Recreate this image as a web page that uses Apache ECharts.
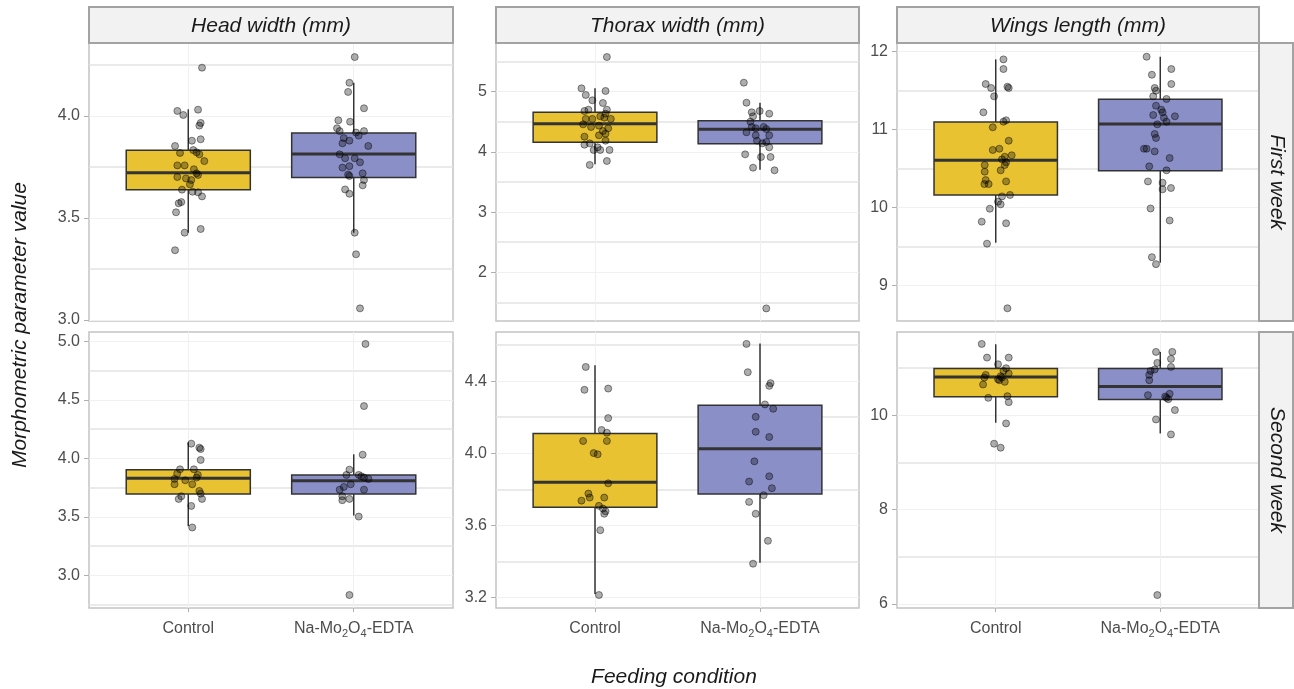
<!DOCTYPE html>
<html>
<head>
<meta charset="utf-8">
<script src="https://cdn.jsdelivr.net/npm/echarts@6/dist/echarts.min.js"></script>
<style>
  html, body { margin: 0; padding: 0; background: #fff; }
  #chart { width: 1294px; height: 689px; }
</style>
</head>
<body>
<div id="chart"></div>
<script>
const groups = ['Control', 'Na-Mo2O4-EDTA'];
const traits = ['Head width (mm)', 'Thorax width (mm)', 'Wings length (mm)'];
const weeks = ['First week', 'Second week'];

// box stats per group: [lower whisker, Q1, median, Q3, upper whisker]
const headW1Box = [[3.428, 3.639, 3.722, 3.832, 4.033], [3.428, 3.699, 3.814, 3.917, 4.163]];
const thoraxW1Box = [[3.794, 4.159, 4.468, 4.658, 5.056], [3.704, 4.136, 4.375, 4.518, 4.817]];
const wingsW1Box = [[9.551, 10.163, 10.608, 11.099, 11.902], [9.295, 10.474, 11.073, 11.390, 11.936]];
const headW2Box = [[3.420, 3.696, 3.829, 3.903, 4.136], [3.511, 3.696, 3.809, 3.858, 4.034]];
const thoraxW2Box = [[3.219, 3.700, 3.839, 4.110, 4.489], [3.392, 3.774, 4.025, 4.267, 4.609]];
const wingsW2Box = [[9.838, 10.387, 10.810, 10.987, 11.501], [9.612, 10.331, 10.606, 10.987, 11.339]];

// observations: [jitter offset, value]
const headW1Ctrl = [[0.083,4.237],[-0.066,4.025],[-0.030,4.005],[0.059,4.031],[0.075,3.966],[0.067,3.953],[0.022,3.879],[0.075,3.886],[-0.080,3.853],[0.030,3.833],[-0.050,3.819],[0.050,3.822],[0.067,3.812],[0.097,3.779],[-0.066,3.758],[-0.022,3.758],[0.034,3.739],[0.050,3.719],[0.059,3.711],[-0.066,3.701],[-0.014,3.694],[0.018,3.686],[0.010,3.665],[-0.038,3.639],[0.026,3.629],[0.059,3.626],[0.083,3.606],[-0.042,3.578],[-0.058,3.572],[-0.074,3.528],[-0.022,3.428],[0.075,3.446],[-0.080,3.342]];
const headW1Na = [[0.006,4.289],[-0.026,4.163],[-0.034,4.118],[0.062,4.038],[-0.093,3.979],[-0.022,3.972],[-0.101,3.940],[-0.085,3.926],[0.014,3.919],[0.062,3.926],[0.030,3.904],[-0.060,3.892],[-0.026,3.879],[-0.068,3.866],[0.088,3.853],[-0.085,3.812],[-0.052,3.793],[0.006,3.793],[0.038,3.773],[-0.068,3.747],[-0.026,3.754],[0.054,3.719],[-0.034,3.713],[-0.026,3.706],[0.062,3.686],[0.054,3.660],[-0.052,3.640],[-0.026,3.619],[0.006,3.428],[0.014,3.322],[0.038,3.057]];
const thoraxW1Ctrl = [[0.072,5.576],[-0.082,5.056],[0.064,5.012],[-0.056,4.945],[-0.016,4.857],[0.048,4.812],[-0.040,4.701],[-0.064,4.679],[0.072,4.701],[0.064,4.635],[0.032,4.591],[-0.056,4.547],[-0.016,4.547],[0.056,4.569],[0.096,4.547],[-0.072,4.458],[-0.024,4.414],[0.024,4.436],[0.080,4.392],[0.048,4.347],[0.064,4.303],[-0.064,4.253],[0.024,4.275],[0.064,4.186],[-0.064,4.120],[-0.032,4.142],[0.016,4.076],[-0.008,4.032],[0.032,4.032],[0.088,4.032],[0.072,3.849],[-0.032,3.783]];
const thoraxW1Na = [[-0.098,5.150],[-0.082,4.817],[-0.050,4.658],[-0.002,4.679],[0.056,4.635],[-0.042,4.591],[-0.058,4.502],[-0.050,4.414],[-0.026,4.392],[0.022,4.414],[0.038,4.380],[-0.082,4.326],[0.056,4.275],[-0.026,4.275],[-0.018,4.186],[0.014,4.142],[0.038,4.164],[0.056,4.076],[-0.090,3.959],[0.006,3.915],[0.064,3.915],[-0.042,3.738],[0.088,3.694],[0.038,1.400]];
const wingsW1Ctrl = [[0.047,11.902],[0.047,11.778],[-0.061,11.586],[-0.028,11.535],[0.071,11.551],[0.079,11.535],[-0.010,11.428],[-0.075,11.223],[0.063,11.121],[0.047,11.103],[-0.018,11.031],[0.079,10.859],[-0.018,10.740],[0.022,10.756],[0.097,10.672],[0.055,10.654],[0.038,10.620],[0.063,10.582],[0.055,10.547],[-0.067,10.547],[-0.067,10.462],[0.030,10.479],[-0.061,10.354],[-0.069,10.303],[-0.043,10.303],[0.063,10.337],[0.038,10.145],[0.087,10.163],[0.014,10.077],[0.030,10.043],[-0.036,9.987],[-0.085,9.821],[0.063,9.800],[-0.053,9.539],[0.071,8.710]];
const wingsW1Na = [[-0.083,11.936],[0.067,11.778],[-0.051,11.705],[0.067,11.586],[-0.034,11.535],[-0.026,11.500],[-0.043,11.428],[0.038,11.394],[-0.026,11.308],[0.006,11.257],[0.014,11.223],[-0.043,11.188],[0.022,11.154],[0.089,11.172],[0.038,11.103],[-0.018,11.069],[-0.034,10.945],[-0.026,10.894],[-0.099,10.756],[-0.083,10.756],[-0.034,10.722],[0.057,10.637],[-0.067,10.530],[0.038,10.479],[-0.075,10.337],[0.014,10.320],[0.014,10.235],[0.065,10.252],[-0.059,9.990],[0.057,9.836],[-0.051,9.366],[-0.026,9.276]];
const headW2Ctrl = [[0.018,4.125],[0.067,4.091],[0.075,4.079],[0.075,3.986],[-0.050,3.906],[0.034,3.906],[-0.067,3.869],[0.058,3.858],[0.050,3.835],[-0.083,3.824],[-0.018,3.812],[-0.083,3.778],[0.024,3.778],[0.067,3.721],[0.075,3.698],[-0.042,3.676],[-0.058,3.653],[0.083,3.653],[0.018,3.593],[0.024,3.409]];
const headW2Na = [[0.071,4.977],[0.062,4.446],[0.054,4.031],[-0.026,3.903],[-0.044,3.858],[0.030,3.858],[0.046,3.846],[0.089,3.824],[0.062,3.835],[-0.018,3.778],[-0.060,3.755],[-0.085,3.732],[0.062,3.732],[-0.069,3.676],[-0.069,3.642],[-0.026,3.653],[0.030,3.502],[-0.026,2.832]];
const thoraxW2Ctrl = [[-0.056,4.479],[-0.064,4.352],[0.080,4.359],[0.080,4.195],[0.040,4.129],[0.072,4.114],[-0.072,4.068],[0.072,4.068],[-0.008,4.001],[0.016,3.994],[0.080,3.833],[-0.040,3.776],[-0.032,3.754],[-0.082,3.737],[0.056,3.754],[0.024,3.708],[0.048,3.693],[0.064,3.678],[0.056,3.664],[0.032,3.573],[0.024,3.213]];
const thoraxW2Na = [[-0.082,4.607],[-0.074,4.450],[0.064,4.389],[0.056,4.374],[0.030,4.271],[0.080,4.247],[-0.026,4.202],[-0.026,4.119],[0.056,4.090],[-0.034,3.955],[0.056,3.872],[-0.066,3.843],[0.072,3.806],[0.022,3.767],[-0.066,3.730],[-0.026,3.664],[0.048,3.514],[-0.042,3.387]];
const wingsW2Ctrl = [[-0.085,11.508],[-0.053,11.219],[0.079,11.219],[0.014,11.078],[0.063,10.994],[0.047,10.937],[0.079,10.881],[-0.061,10.852],[-0.069,10.796],[0.030,10.825],[0.014,10.761],[0.038,10.796],[0.022,10.740],[0.055,10.705],[-0.077,10.648],[-0.045,10.366],[0.071,10.402],[0.079,10.275],[0.063,9.824],[-0.010,9.394],[0.030,9.309]];
const wingsW2Na = [[-0.026,11.339],[0.073,11.339],[0.065,11.191],[-0.018,11.106],[0.065,11.022],[-0.034,10.966],[-0.059,10.937],[-0.067,10.852],[-0.067,10.740],[-0.075,10.423],[0.030,10.395],[0.057,10.451],[0.049,10.338],[0.038,10.366],[0.089,10.106],[-0.026,9.908],[0.065,9.591],[-0.018,6.187]];

// y axis limits and ticks, panels ordered row by row
const yMins = [2.995, 1.191, 8.547, 2.721, 3.141, 5.913];
const yMaxs = [4.358, 5.809, 12.112, 5.079, 4.673, 11.761];
const majorTicks = [[3, 3.5, 4], [2, 3, 4, 5], [9, 10, 11, 12], [3, 3.5, 4, 4.5, 5], [3.2, 3.6, 4.0, 4.4], [6, 8, 10]];
const minorTicks = [[3.25, 3.75, 4.25], [1.5, 2.5, 3.5, 4.5, 5.5], [8.5, 9.5, 10.5, 11.5], [2.75, 3.25, 3.75, 4.25, 4.75], [3.4, 3.8, 4.2, 4.6], [7, 9, 11]];
const tickDecimals = [1, 0, 0, 1, 1, 0];

const boxes = [headW1Box, thoraxW1Box, wingsW1Box, headW2Box, thoraxW2Box, wingsW2Box];
const ctrlPts = [headW1Ctrl, thoraxW1Ctrl, wingsW1Ctrl, headW2Ctrl, thoraxW2Ctrl, wingsW2Ctrl];
const naPts = [headW1Na, thoraxW1Na, wingsW1Na, headW2Na, thoraxW2Na, wingsW2Na];

const fills = ['#e9c232', '#8b8fc8'];
const FONT = '"Liberation Sans", Arial, sans-serif';

// panel layout
const colLeft = [89, 496, 897];
const colWidth = [364, 363, 362];
const rowTop = [43, 332];
const rowHeight = [278, 276];

const chart = echarts.init(document.getElementById('chart'));

const grid = [], xAxis = [], yAxis = [], series = [];

for (let p = 0; p < 6; p++) {
  const r = Math.floor(p / 3), c = p % 3;
  const bottom = r === 1;
  grid.push({
    left: colLeft[c], top: rowTop[r], width: colWidth[c], height: rowHeight[r],
    show: true, borderColor: '#c4c4c4', borderWidth: 1.5, backgroundColor: '#fff'
  });
  xAxis.push({
    type: 'value', gridIndex: p, min: 0.4, max: 2.6,
    axisLine: { show: false },
    axisTick: { show: bottom, customValues: [1, 2], length: 4, lineStyle: { color: '#b0b0b0' } },
    axisLabel: {
      show: bottom, customValues: [1, 2], margin: 11, color: '#4d4d4d', fontSize: 16, fontFamily: FONT,
      formatter: v => v === 1 ? '{n|' + groups[0] + '}' : '{n|Na-Mo}{s|2}{n|O}{s|4}{n|-EDTA}',
      rich: {
        n: { fontSize: 16, color: '#4d4d4d', fontFamily: FONT, lineHeight: 20 },
        s: { fontSize: 11, color: '#4d4d4d', fontFamily: FONT, lineHeight: 12, verticalAlign: 'bottom' }
      }
    },
    splitLine: { show: true, lineStyle: { color: '#f0f0f0', width: 1 } }
  });
  const dec = tickDecimals[p];
  yAxis.push({
    type: 'value', gridIndex: p, min: yMins[p], max: yMaxs[p],
    axisLine: { show: false },
    axisTick: { show: true, customValues: majorTicks[p], length: 5, lineStyle: { color: '#b0b0b0' } },
    axisLabel: {
      customValues: majorTicks[p], margin: 9, color: '#4d4d4d', fontSize: 16, fontFamily: FONT,
      formatter: v => v.toFixed(dec)
    },
    splitLine: { show: true, lineStyle: { color: '#f0f0f0', width: 1 } }
  });
  yAxis.push({
    type: 'value', gridIndex: p, min: yMins[p], max: yMaxs[p], position: 'left',
    axisLine: { show: false },
    axisTick: { show: false, customValues: minorTicks[p] },
    axisLabel: { show: false, customValues: minorTicks[p] },
    splitLine: { show: true, lineStyle: { color: '#e3e3e3', width: 1.5 } }
  });

  // boxes
  series.push({
    type: 'custom', xAxisIndex: p, yAxisIndex: 2 * p, z: 2,
    encode: { x: 0, y: [1, 2, 3, 4, 5] },
    data: boxes[p].map((b, i) => [i + 1].concat(b)),
    renderItem: (params, api) => {
      const x = api.value(0);
      const pLo = api.coord([x, api.value(1)]);
      const pQ1 = api.coord([x, api.value(2)]);
      const pMed = api.coord([x, api.value(3)]);
      const pQ3 = api.coord([x, api.value(4)]);
      const pHi = api.coord([x, api.value(5)]);
      const half = api.size([0.375, 0])[0];
      const stroke = '#333333';
      return {
        type: 'group',
        children: [
          { type: 'line', shape: { x1: pLo[0], y1: pLo[1], x2: pQ1[0], y2: pQ1[1] }, style: { stroke: stroke, lineWidth: 1.5 } },
          { type: 'line', shape: { x1: pQ3[0], y1: pQ3[1], x2: pHi[0], y2: pHi[1] }, style: { stroke: stroke, lineWidth: 1.5 } },
          { type: 'rect', shape: { x: pMed[0] - half, y: pQ3[1], width: 2 * half, height: pQ1[1] - pQ3[1] },
            style: { fill: fills[params.dataIndex], stroke: stroke, lineWidth: 1.5 } },
          { type: 'line', shape: { x1: pMed[0] - half, y1: pMed[1], x2: pMed[0] + half, y2: pMed[1] }, style: { stroke: stroke, lineWidth: 3 } }
        ]
      };
    }
  });

  // jittered observations
  const pts = ctrlPts[p].map(d => [1 + d[0], d[1]]).concat(naPts[p].map(d => [2 + d[0], d[1]]));
  series.push({
    type: 'scatter', xAxisIndex: p, yAxisIndex: 2 * p, z: 3,
    symbolSize: 7, data: pts,
    itemStyle: { color: 'rgba(0,0,0,0.32)', borderColor: 'rgba(0,0,0,0.55)', borderWidth: 0.8, opacity: 1 }
  });
}

// facet strips and axis titles
const graphic = [];
for (let c = 0; c < 3; c++) {
  graphic.push({
    type: 'rect', shape: { x: colLeft[c], y: 7, width: colWidth[c], height: 36 },
    style: { fill: '#f2f2f2', stroke: '#a3a3a3', lineWidth: 2 }, z: 10
  });
  graphic.push({
    type: 'text', x: colLeft[c] + colWidth[c] / 2, y: 26, z: 11,
    style: { text: traits[c], font: 'italic 21px ' + FONT, fill: '#1a1a1a', align: 'center', verticalAlign: 'middle' }
  });
}
for (let r = 0; r < 2; r++) {
  graphic.push({
    type: 'rect', shape: { x: 1259, y: rowTop[r], width: 34, height: rowHeight[r] },
    style: { fill: '#f2f2f2', stroke: '#a3a3a3', lineWidth: 2 }, z: 10
  });
  graphic.push({
    type: 'text', x: 1277, y: rowTop[r] + rowHeight[r] / 2, rotation: -Math.PI / 2, z: 11,
    style: { text: weeks[r], font: 'italic 21px ' + FONT, fill: '#1a1a1a', align: 'center', verticalAlign: 'middle' }
  });
}
graphic.push({
  type: 'text', x: 20, y: 325, rotation: Math.PI / 2, z: 11,
  style: { text: 'Morphometric parameter value', font: 'italic 21px ' + FONT, fill: '#1a1a1a', align: 'center', verticalAlign: 'middle' }
});
graphic.push({
  type: 'text', x: 674, y: 677, z: 11,
  style: { text: 'Feeding condition', font: 'italic 21px ' + FONT, fill: '#1a1a1a', align: 'center', verticalAlign: 'middle' }
});

chart.setOption({
  backgroundColor: '#fff',
  animation: false,
  grid: grid,
  xAxis: xAxis,
  yAxis: yAxis,
  series: series,
  graphic: graphic
});
</script>
</body>
</html>
